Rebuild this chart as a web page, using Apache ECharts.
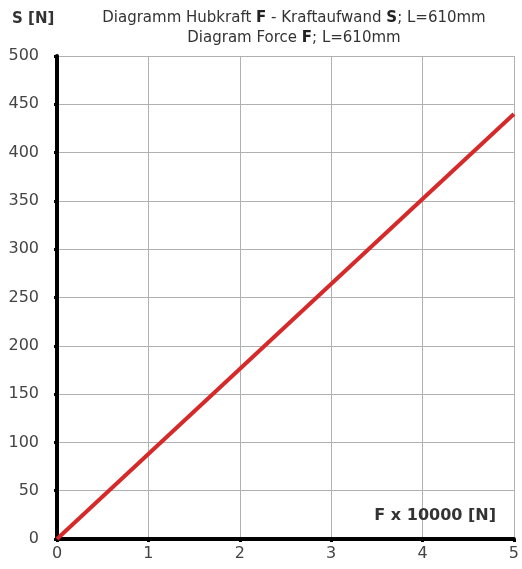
<!DOCTYPE html>
<html><head><meta charset="utf-8">
<script src="https://cdn.jsdelivr.net/npm/echarts@6/dist/echarts.min.js"></script>
<style>html,body{margin:0;padding:0;background:#fff}#c{width:522px;height:569px}</style>
</head><body><div id="c"></div>
<script>
const forceX = [0, 5];
const effortS = [0, 440];
const xTicks = [0, 1, 2, 3, 4, 5];
const yTicks = [0, 50, 100, 150, 200, 250, 300, 350, 400, 450, 500];
const titleLine1 = ['Diagramm Hubkraft ', 'F', ' - Kraftaufwand ', 'S', '; L=610mm'];
const titleLine2 = ['Diagram Force ', 'F', '; L=610mm'];
const yName = 'S [N]';
const xName = 'F x 10000 [N]';

const chart = echarts.init(document.getElementById('c'));
const ff = 'DejaVu Sans';
function rich(parts){
  return parts.map((p,i)=> (p==='F'||p==='S') ? '{b|'+p+'}' : '{n|'+p+'}').join('');
}
chart.setOption({
  animation:false,
  textStyle:{fontFamily:ff},
  title:[{
    text: rich(titleLine1) + '\n' + rich(titleLine2),
    left: 289, top: 3, textAlign:'center',
    textStyle:{fontSize:15, fontFamily:ff, fontWeight:'normal', lineHeight:20, color:'#333',
      rich:{n:{fontSize:15,fontWeight:'normal',color:'#333',fontFamily:ff,lineHeight:20},b:{fontSize:15,fontWeight:'bold',color:'#222',fontFamily:ff,lineHeight:20}}}
  },{
    text: yName, left: 7, top: 7,
    textStyle:{fontSize:15, fontWeight:'bold', color:'#333', fontFamily:ff}
  },{
    text: xName, right: 21, top: 503,
    textStyle:{fontSize:16, fontWeight:'bold', color:'#333', fontFamily:ff}
  }],
  grid:{left:57, right:5, top:56, bottom:30, show:false},
  xAxis:{type:'value', min:0, max:5, interval:1,
    axisLine:{show:true, onZero:false, lineStyle:{color:'#000', width:4}},
    axisTick:{show:true, length:3, lineStyle:{color:'#000', width:3}},
    axisLabel:{fontSize:16, color:'#444', margin:7, fontFamily:ff,
      formatter:v=> xTicks.includes(v)? String(v):''},
    splitLine:{show:true, lineStyle:{color:'#b0b0b0', width:1}}},
  yAxis:{type:'value', min:0, max:500, interval:50,
    axisLine:{show:true, onZero:false, lineStyle:{color:'#000', width:4}},
    axisTick:{show:true, length:3, lineStyle:{color:'#000', width:3}},
    axisLabel:{fontSize:16, color:'#444', margin:18, fontFamily:ff,
      formatter:v=> yTicks.includes(v)? String(v):''},
    splitLine:{show:true, lineStyle:{color:'#b0b0b0', width:1}}},
  series:[{type:'line', data: forceX.map((x,i)=>[x, effortS[i]]),
    showSymbol:false, lineStyle:{color:'#d42a2a', width:4}, z:3}]
});
</script></body></html>
